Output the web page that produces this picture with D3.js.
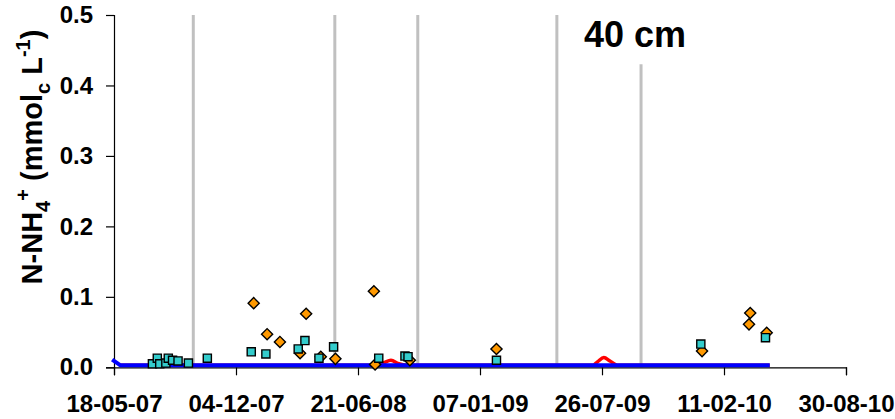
<!DOCTYPE html>
<html>
<head>
<meta charset="utf-8">
<script src="https://cdn.jsdelivr.net/npm/d3@7/dist/d3.min.js"></script>
<style>
  html, body { margin: 0; padding: 0; background: #fff; }
  svg { display: block; font-family: Arial, "Liberation Sans", sans-serif; }
</style>
</head>
<body>
<svg id="chart" width="895" height="419"></svg>
<script>
// ---------- data ----------
const xTickLabels = ["18-05-07", "04-12-07", "21-06-08", "07-01-09", "26-07-09", "11-02-10", "30-08-10"];
const yTickValues = [0, 0.1, 0.2, 0.3, 0.4, 0.5];

// vertical reference lines (season boundaries)
const refDates = ["2007-09-25", "2008-05-14", "2008-09-27", "2009-05-13", "2009-09-28"];
const refTops  = [0.5, 0.5, 0.5, 0.5, 0.43];

// orange diamonds (measured)
const diamondDates = ["2008-01-02", "2008-01-24", "2008-02-14", "2008-03-18", "2008-03-28", "2008-04-21",
                      "2008-05-15", "2008-07-17", "2008-07-19", "2008-09-14", "2009-02-03", "2010-01-06",
                      "2010-03-26", "2010-03-24", "2010-04-22"];
const diamondValues = [0.091, 0.047, 0.036, 0.020, 0.076, 0.015,
                       0.012, 0.108, 0.004, 0.010, 0.026, 0.023,
                       0.077, 0.061, 0.049];

// teal squares (measured)
const squareDates = ["2007-07-20", "2007-07-28", "2007-08-01", "2007-08-11", "2007-08-15", "2007-08-22",
                     "2007-08-31", "2007-09-17", "2007-10-18", "2007-12-29", "2008-01-22", "2008-03-15",
                     "2008-03-26", "2008-04-18", "2008-05-12", "2008-07-25", "2008-09-06", "2008-09-11",
                     "2009-02-03", "2010-01-04", "2010-04-20"];
const squareValues = [0.005, 0.013, 0.005, 0.006, 0.013, 0.010,
                      0.009, 0.006, 0.013, 0.022, 0.019, 0.026,
                      0.038, 0.013, 0.029, 0.013, 0.016, 0.015,
                      0.010, 0.033, 0.042];

// blue line
const blueDates  = ["2007-05-15", "2007-05-28", "2010-04-27"];
const blueValues = [0.011, 0.003, 0.003];

// red line
const redDates  = ["2007-05-28", "2008-07-19", "2008-08-01", "2008-08-14", "2008-08-27", "2008-09-09",
                   "2009-07-11", "2009-07-19", "2009-07-29", "2009-08-08", "2009-08-20", "2010-04-27"];
const redValues = [0.003, 0.003, 0.006, 0.010, 0.005, 0.003,
                   0.003, 0.008, 0.014, 0.009, 0.003, 0.003];

// ---------- drawing ----------
const parseISO = d3.utcParse("%Y-%m-%d");
const parseTick = d3.utcParse("%d-%m-%y");
const xTicks = xTickLabels.map(parseTick);

const svg = d3.select("#chart");
svg.append("rect").attr("width", 895).attr("height", 419).attr("fill", "#fff");

const x = d3.scaleUtc().domain([xTicks[0], xTicks[xTicks.length - 1]]).range([114, 846]);
const y = d3.scaleLinear().domain([0, 0.5]).range([367.3, 15]);

// reference lines
svg.append("g").selectAll("line").data(refDates).join("line")
  .attr("x1", d => x(parseISO(d))).attr("x2", d => x(parseISO(d)))
  .attr("y1", (d, i) => y(refTops[i])).attr("y2", y(0))
  .attr("stroke", "#c0c0c0").attr("stroke-width", 3);

// axes
const xAxis = d3.axisBottom(x).tickValues(xTicks).tickSize(8)
  .tickFormat((d, i) => xTickLabels[i]);
const gx = svg.append("g").attr("transform", `translate(0,${y(0)})`).call(xAxis);
gx.select(".domain").attr("stroke", "#000").attr("stroke-width", 1.2);
gx.selectAll(".tick line").attr("stroke", "#000").attr("stroke-width", 1.2);
gx.selectAll(".tick text").attr("font-size", 24).attr("font-weight", "bold")
  .attr("font-family", "Arial, 'Liberation Sans', sans-serif").attr("fill", "#000").attr("dy", "1.42em");

const yAxis = d3.axisLeft(y).tickValues(yTickValues).tickSize(8).tickFormat(d3.format(".1f"));
const gy = svg.append("g").attr("transform", `translate(114,0)`).call(yAxis);
gy.select(".domain").attr("stroke", "#000").attr("stroke-width", 1.2);
gy.selectAll(".tick line").attr("stroke", "#000").attr("stroke-width", 1.2);
gy.selectAll(".tick text").attr("font-size", 24).attr("font-weight", "bold")
  .attr("font-family", "Arial, 'Liberation Sans', sans-serif").attr("fill", "#000").attr("x", -21);

// lines
const line = d3.line().x(d => x(d[0])).y(d => y(d[1])).curve(d3.curveMonotoneX);
svg.append("path").datum(redDates.map((d, i) => [parseISO(d), redValues[i]]))
  .attr("d", line).attr("fill", "none").attr("stroke", "#ff0000").attr("stroke-width", 3.5);
svg.append("path").datum(blueDates.map((d, i) => [parseISO(d), blueValues[i]]))
  .attr("d", d3.line().x(d => x(d[0])).y(d => y(d[1]))).attr("fill", "none")
  .attr("stroke", "#0000ff").attr("stroke-width", 4).attr("stroke-linejoin", "round");

// diamonds
const diamond = d3.symbol().type(d3.symbolSquare).size(62);
svg.append("g").selectAll("path").data(diamondDates).join("path")
  .attr("d", diamond)
  .attr("transform", (d, i) => `translate(${x(parseISO(d))},${y(diamondValues[i])}) rotate(45)`)
  .attr("fill", "#ff9900").attr("stroke", "#000").attr("stroke-width", 1.4);

// squares
const square = d3.symbol().type(d3.symbolSquare).size(66);
svg.append("g").selectAll("path").data(squareDates).join("path")
  .attr("d", square)
  .attr("transform", (d, i) => `translate(${x(parseISO(d))},${y(squareValues[i])})`)
  .attr("fill", "#33cccc").attr("stroke", "#000").attr("stroke-width", 1.4);

// y-axis title
const title = svg.append("text")
  .attr("transform", "translate(42,157) rotate(-90)")
  .attr("text-anchor", "middle").attr("font-size", 29).attr("font-weight", "bold").attr("fill", "#000");
title.append("tspan").text("N-NH");
title.append("tspan").attr("font-size", 20).attr("dy", 8).text("4");
title.append("tspan").attr("font-size", 20).attr("dy", -20).text("+");
title.append("tspan").attr("dy", 12).text(" (mmol");
title.append("tspan").attr("font-size", 20).attr("dy", 8).text("c");
title.append("tspan").attr("dy", -8).text(" L");
title.append("tspan").attr("font-size", 20).attr("dy", -12).text("-1");
title.append("tspan").attr("dy", 12).text(")");

// panel label
svg.append("text").attr("x", 635).attr("y", 47).attr("text-anchor", "middle")
  .attr("font-size", 36).attr("font-weight", "bold").attr("fill", "#000").text("40 cm");
</script>
</body>
</html>
